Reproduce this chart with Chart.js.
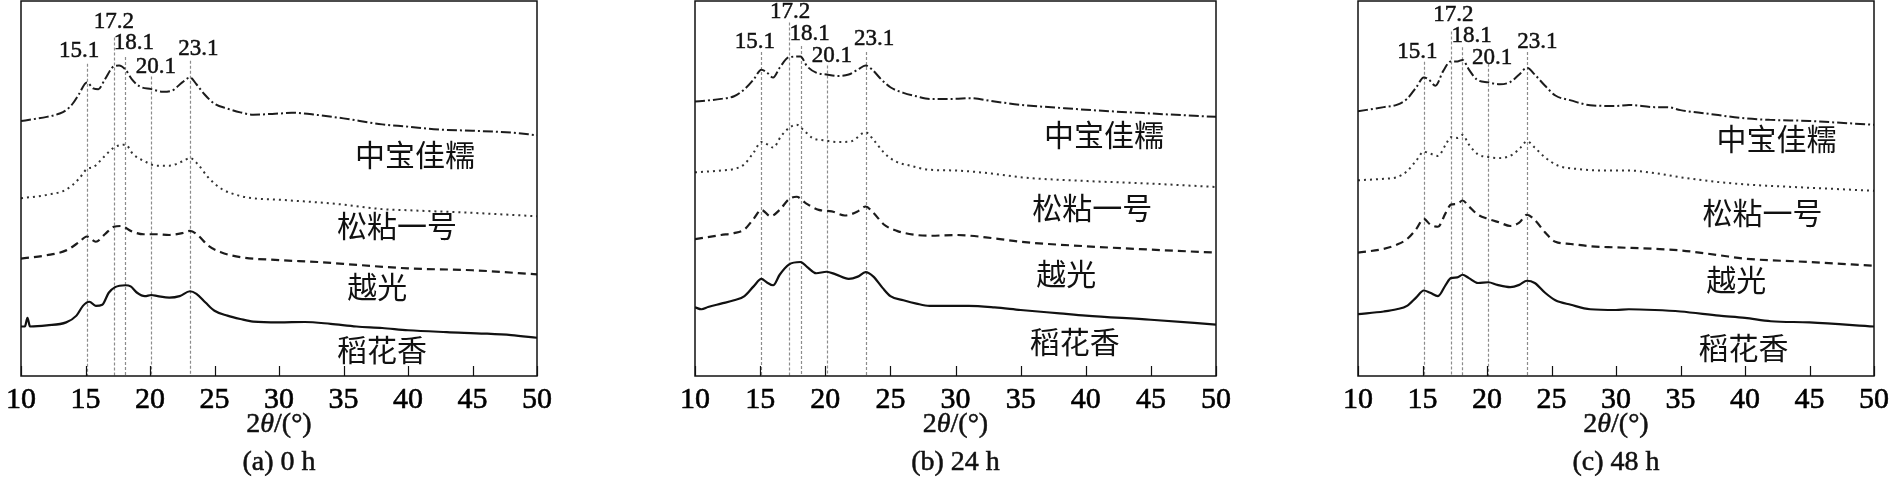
<!DOCTYPE html>
<html>
<head>
<meta charset="utf-8">
<script src="https://cdn.jsdelivr.net/npm/chart.js@4.4.1/dist/chart.umd.min.js"></script>
<style>
  html, body { margin: 0; padding: 0; background: #fff; width: 1895px; height: 495px; overflow: hidden; }
  .panel { position: absolute; top: 0; height: 495px; }
</style>
</head>
<body>
<div class="panel" style="left:0px;width:560px"><canvas id="c0"></canvas></div>
<div class="panel" style="left:660px;width:580px"><canvas id="c1"></canvas></div>
<div class="panel" style="left:1320px;width:575px"><canvas id="c2"></canvas></div>
<script>
// x axis ticks, peak positions, variety names, panel captions
const xTicks = [10, 15, 20, 25, 30, 35, 40, 45, 50];
const peaks = [15.1, 17.2, 18.1, 20.1, 23.1];
const varieties = ['中宝佳糯', '松粘一号', '越光', '稻花香'];
const captions = ['(a) 0 h', '(b) 24 h', '(c) 48 h'];

// XRD curves: [2θ, relative intensity (stacked, 0-100)]
const h0_zhongbao = [[10,68.0],[11,68.5],[12,69.1],[13,70.0],[13.5,70.9],[14,72.6],[14.5,75.2],[15.1,78.3],[15.6,76.7],[16,76.5],[16.5,79.1],[17.2,82.6],[17.6,82.8],[18.1,81.7],[18.6,79.1],[19.2,77.2],[20.1,76.5],[21,75.8],[21.7,76.1],[22.5,78.3],[23.1,79.6],[23.6,77.8],[24.2,75.2],[25,72.6],[26,71.3],[27,70.3],[28,69.7],[30,70.0],[31,70.2],[33,69.6],[35,68.7],[38,67.1],[40,66.5],[42,65.8],[45,65.4],[48,64.9],[50,64.2]];
const h0_songzhan = [[10,47.4],[12,48.3],[13.5,49.7],[14.5,52.6],[15.1,55.2],[15.6,55.7],[16.5,58.7],[17.2,60.9],[18.1,61.7],[18.7,59.1],[19.5,57.4],[20.5,56.1],[21.5,56.1],[22.5,57.2],[23.1,58.1],[23.7,56.5],[24.5,53.0],[25.5,50.0],[27,48.0],[28,47.4],[30,47.0],[33,46.3],[35,45.7],[38,44.5],[40,44.2],[45,43.5],[50,42.6]];
const h0_yueguang = [[10,31.3],[12,32.2],[13.5,33.5],[14.5,35.7],[15.1,37.2],[15.8,35.8],[16.5,37.8],[17.2,39.8],[17.8,40.0],[18.5,38.7],[19.5,37.8],[20.5,37.8],[21.5,37.6],[22.5,38.1],[23.1,38.7],[23.7,37.6],[24.5,34.8],[25.5,33.0],[27,31.7],[30,30.9],[33,30.4],[35,29.9],[40,28.7],[45,28.2],[50,27.1]];
const h0_daohua = [[10,13.2],[10.3,13.2],[10.5,15.5],[10.7,13.2],[12,13.5],[13.5,14.3],[14.3,16.1],[14.8,18.7],[15.3,19.8],[15.8,18.7],[16.3,19.0],[16.8,22.2],[17.3,23.7],[18.1,24.2],[18.5,23.9],[19.0,22.2],[19.6,21.3],[20.1,21.6],[20.6,21.3],[21.5,20.9],[22.3,21.3],[23.1,22.6],[23.6,21.9],[24.3,19.6],[25,17.4],[26,16.1],[27,15.2],[28,14.5],[30,14.3],[32,14.4],[34,13.9],[36,13.2],[38,12.8],[40,12.2],[43,11.7],[46,11.3],[48,10.9],[50,10.2]];

const h24_zhongbao = [[10,73.2],[11,73.5],[12,73.9],[13,74.6],[13.8,76.5],[14.5,79.1],[15.1,81.7],[15.5,81.0],[16,79.6],[16.5,82.2],[17.2,85.0],[18.1,85.2],[18.6,82.6],[19.3,80.9],[20.1,80.4],[21,80.0],[21.8,80.4],[22.5,81.7],[23.1,82.8],[23.6,81.7],[24.3,79.1],[25,77.0],[26,75.5],[27,74.6],[28,73.9],[30,73.9],[31,74.1],[33,73.2],[35,72.3],[38,71.5],[40,71.0],[45,70.0],[50,69.1]];
const h24_songzhan = [[10,54.3],[12,54.8],[13,55.2],[13.8,56.5],[14.5,59.6],[15.1,62.4],[15.6,61.7],[16,60.9],[16.6,63.9],[17.2,66.1],[17.8,67.0],[18.3,65.7],[19,63.5],[20,62.8],[21,62.4],[22,62.6],[23.1,65.0],[23.7,63.0],[24.5,59.6],[25.3,57.4],[26.5,56.1],[28,55.0],[30,54.8],[33,53.9],[35,53.0],[40,52.0],[45,51.3],[50,50.4]];
const h24_yueguang = [[10,36.5],[12,37.6],[13,38.1],[13.8,39.1],[14.5,41.9],[15.1,44.3],[15.8,42.6],[16.5,44.3],[17.2,47.1],[17.8,47.8],[18.5,46.1],[19.5,44.3],[20.5,43.9],[21.5,42.8],[22.5,43.9],[23.1,45.2],[23.7,43.5],[24.5,40.4],[25.5,38.7],[27,37.6],[28,37.4],[30,37.6],[33,36.7],[35,35.8],[40,34.6],[45,33.7],[50,32.9]];
const h24_daohua = [[10,18.3],[10.5,17.8],[11,18.4],[12,19.3],[13,20.2],[13.8,21.3],[14.5,23.9],[15.1,25.9],[15.5,25.0],[16,24.2],[16.5,27.0],[17.2,29.7],[18.1,30.4],[18.6,29.1],[19.3,27.4],[20.1,27.8],[20.8,27.1],[21.8,25.9],[22.5,26.5],[23.1,27.7],[23.7,26.5],[24.4,23.5],[25,21.3],[26,20.2],[27,19.3],[28,18.7],[30,18.7],[31,18.7],[33,18.3],[35,17.6],[38,16.7],[40,16.1],[45,15.0],[50,13.7]];

const h48_zhongbao = [[10,70.6],[12,71.7],[13,72.3],[13.8,73.9],[14.5,76.9],[15.1,79.6],[15.5,79.0],[16,77.4],[16.6,81.3],[17.2,83.9],[17.7,83.9],[18.1,84.3],[18.6,81.7],[19.2,79.1],[20.1,78.3],[21,77.8],[21.8,78.4],[22.5,80.4],[23.1,82.2],[23.7,80.4],[24.5,77.4],[25.3,74.8],[26.5,73.5],[28,72.2],[30,72.0],[31,72.3],[33,71.7],[34,71.7],[35,70.9],[37,70.0],[40,68.7],[42,68.3],[45,68.0],[48,67.4],[50,67.0]];
const h48_songzhan = [[10,52.2],[12,52.6],[13,53.0],[13.8,54.6],[14.5,57.4],[15.1,59.8],[15.6,59.3],[16.2,58.7],[16.8,61.7],[17.2,63.7],[17.7,63.5],[18.1,64.3],[18.6,61.7],[19.3,59.1],[20.1,58.4],[21,58.1],[22,59.1],[22.6,60.9],[23.1,62.6],[23.7,60.9],[24.5,58.3],[25.5,56.1],[27,55.2],[29,54.8],[31,54.8],[33,54.1],[35,53.0],[38,51.7],[40,51.1],[45,50.2],[50,49.4]];
const h48_yueguang = [[10,32.9],[12,33.9],[13,35.0],[13.8,36.5],[14.5,39.1],[15.1,41.9],[15.6,40.4],[16.2,39.8],[16.8,43.5],[17.2,45.7],[17.7,45.9],[18.1,46.8],[18.6,45.2],[19.3,43.0],[20.1,41.9],[21,40.9],[21.8,40.0],[22.5,40.9],[23.1,43.0],[23.7,41.6],[24.5,38.3],[25.3,35.8],[26.5,35.2],[28,34.6],[30,34.3],[33,33.9],[35,33.5],[38,32.2],[40,31.3],[45,30.4],[50,29.4]];
const h48_daohua = [[10,16.5],[12,17.2],[13,17.8],[13.8,18.7],[14.5,20.9],[15.1,22.8],[15.6,22.2],[16.2,21.3],[16.8,24.3],[17.2,26.1],[17.7,26.3],[18.1,27.0],[18.6,26.1],[19.3,24.8],[20.1,25.0],[20.8,24.3],[21.8,23.7],[22.5,24.3],[23.1,25.4],[23.7,24.8],[24.5,22.2],[25.3,20.2],[26.5,19.0],[28,17.8],[30,17.6],[31,17.8],[33,17.6],[35,17.2],[38,16.1],[40,15.5],[42,14.6],[45,14.3],[50,13.2]];

const panelSeries = [
  [h0_zhongbao, h0_songzhan, h0_yueguang, h0_daohua],
  [h24_zhongbao, h24_songzhan, h24_yueguang, h24_daohua],
  [h48_zhongbao, h48_songzhan, h48_yueguang, h48_daohua]
];

// line style per variety: dash-dot, dotted, dashed, solid
const lineStyles = [
  { dash: [10, 3, 2, 3], color: '#1c1c1c', width: 2 },
  { dash: [2, 4], color: '#333', width: 2 },
  { dash: [8, 5], color: '#1c1c1c', width: 2.2 },
  { dash: [], color: '#111', width: 2.2 }
];

// placement of annotations for each panel (data units)
const panelLayout = [
  { pad: { left: 16, right: 23 },
    lineTop: [83.3, 90.3, 85.1, 79.9, 84.1],
    peakLabel: [[14.5, 86.6], [17.2, 94.5], [18.75, 88.8], [20.45, 82.5], [23.75, 87.2]],
    nameLabel: [[35.9, 59.0], [34.5, 40.2], [35.3, 23.8], [34.5, 7.0]] },
  { pad: { left: 35, right: 24 },
    lineTop: [86.4, 94.3, 88.0, 82.8, 86.4],
    peakLabel: [[14.6, 89.0], [17.3, 97.1], [18.8, 91.1], [20.5, 85.4], [23.75, 89.8]],
    nameLabel: [[36.8, 64.5], [35.9, 44.9], [36.2, 27.2], [35.7, 9.1]] },
  { pad: { left: 38, right: 15 },
    lineTop: [83.8, 91.9, 87.7, 83.3, 86.4],
    peakLabel: [[14.6, 86.4], [17.4, 96.3], [18.8, 90.6], [20.4, 84.9], [23.9, 89.0]],
    nameLabel: [[37.8, 63.4], [36.7, 43.6], [37.0, 25.8], [36.4, 7.6]] }
];

const SERIF = '"Liberation Serif", "Times New Roman", serif';
const CJK = '"Noto Sans CJK SC", sans-serif';

// fill text with a thin stroke so it looks as heavy as the scanned figure
function boldText(ctx, s, px, py) {
  ctx.fillText(s, px, py);
  ctx.strokeText(s, px, py);
}

function decor(idx) {
  const lay = panelLayout[idx];
  return {
    id: 'decor' + idx,
    beforeDatasetsDraw(chart) {
      const { ctx, chartArea: a, scales: { x, y } } = chart;
      ctx.save();
      ctx.strokeStyle = '#8c8c8c';
      ctx.lineWidth = 1.2;
      ctx.setLineDash([3, 2]);
      peaks.forEach((p, i) => {
        const px = Math.round(x.getPixelForValue(p)) + 0.5;
        ctx.beginPath();
        ctx.moveTo(px, y.getPixelForValue(lay.lineTop[i]));
        ctx.lineTo(px, a.bottom);
        ctx.stroke();
      });
      ctx.restore();
    },
    afterDraw(chart) {
      const { ctx, chartArea: a, scales: { x, y } } = chart;
      ctx.save();
      // frame
      ctx.strokeStyle = '#111';
      ctx.lineWidth = 1.5;
      ctx.setLineDash([]);
      ctx.strokeRect(a.left, a.top, a.right - a.left, a.bottom - a.top);
      // inward tick marks
      ctx.lineWidth = 1.2;
      xTicks.forEach(t => {
        const px = Math.round(x.getPixelForValue(t)) + 0.5;
        ctx.beginPath();
        ctx.moveTo(px, a.bottom);
        ctx.lineTo(px, a.bottom - 10);
        ctx.stroke();
      });
      // peak labels
      ctx.fillStyle = '#111';
      ctx.strokeStyle = '#111';
      ctx.lineWidth = 0.5;
      ctx.textAlign = 'center';
      ctx.textBaseline = 'middle';
      ctx.font = '23px ' + SERIF;
      peaks.forEach((p, i) => {
        const [lx, ly] = lay.peakLabel[i];
        boldText(ctx, p.toFixed(1), x.getPixelForValue(lx), y.getPixelForValue(ly));
      });
      // variety names
      ctx.textAlign = 'left';
      ctx.font = '30px ' + CJK;
      varieties.forEach((v, i) => {
        const [lx, ly] = lay.nameLabel[i];
        ctx.fillText(v, x.getPixelForValue(lx), y.getPixelForValue(ly));
      });
      // axis title 2θ/(°) with italic theta
      const cx = (a.left + a.right) / 2;
      const ty = a.bottom + 49;
      const parts = [['2', false], ['\u03B8', true], ['/(\u00B0)', false]];
      let total = 0;
      parts.forEach(([s, it]) => { ctx.font = (it ? 'italic ' : '') + '28px ' + SERIF; total += ctx.measureText(s).width; });
      let cur = cx - total / 2;
      ctx.textAlign = 'left';
      parts.forEach(([s, it]) => {
        ctx.font = (it ? 'italic ' : '') + '28px ' + SERIF;
        boldText(ctx, s, cur, ty);
        cur += ctx.measureText(s).width;
      });
      // caption
      ctx.textAlign = 'center';
      ctx.font = '28px ' + SERIF;
      boldText(ctx, captions[idx], cx, a.bottom + 87);
      ctx.restore();
    }
  };
}

function makeChart(idx) {
  const ctx = document.getElementById('c' + idx).getContext('2d');
  const lay = panelLayout[idx];
  return new Chart(ctx, {
    type: 'line',
    data: {
      datasets: panelSeries[idx].map((pts, i) => ({
        label: varieties[i],
        data: pts.map(([px, py]) => ({ x: px, y: py })),
        borderColor: lineStyles[i].color,
        borderWidth: lineStyles[i].width,
        borderDash: lineStyles[i].dash,
        pointRadius: 0,
        fill: false,
        cubicInterpolationMode: 'monotone'
      }))
    },
    options: {
      responsive: true,
      maintainAspectRatio: false,
      animation: false,
      layout: { padding: { left: lay.pad.left, right: lay.pad.right, top: 1, bottom: 71 } },
      plugins: { legend: { display: false }, tooltip: { enabled: false } },
      scales: {
        x: {
          type: 'linear', min: 10, max: 50,
          afterBuildTicks: s => { s.ticks = xTicks.map(v => ({ value: v })); },
          ticks: {
            font: { family: SERIF, size: 30 }, color: '#000', padding: 6,
            maxRotation: 0, autoSkip: false, textStrokeColor: '#000', textStrokeWidth: 0.6
          },
          grid: { display: false, drawTicks: false },
          border: { display: false }
        },
        y: { display: false, min: 0, max: 100 }
      }
    },
    plugins: [decor(idx)]
  });
}

[0, 1, 2].forEach(makeChart);
</script>
</body>
</html>
